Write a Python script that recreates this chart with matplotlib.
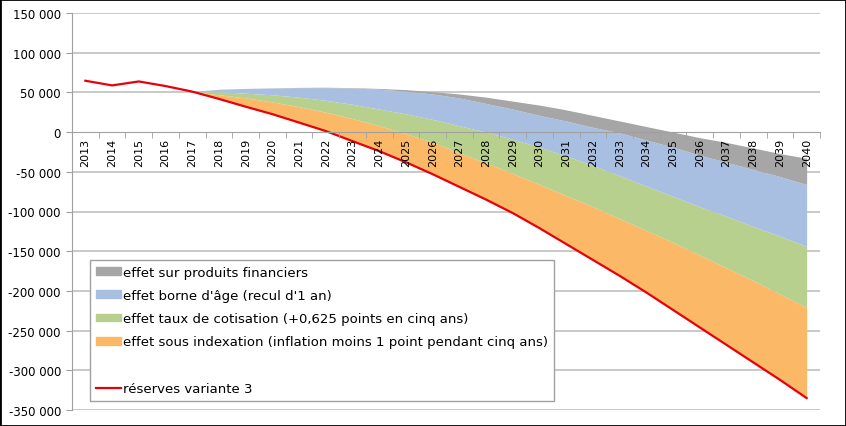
""" Réserves variante 3 - effets des mesures """
import numpy as np
import matplotlib
matplotlib.use("Agg")
from matplotlib import pyplot as plt
from matplotlib.patches import Patch, Rectangle
from matplotlib.lines import Line2D
from matplotlib.ticker import FuncFormatter, MultipleLocator


years = list(range(2013, 2041))

# réserves variante 3 (ligne rouge)
reserves = [64700, 58800, 63800, 58000, 51000, 41800, 32000, 22600, 12000, 1300,
            -11400, -24000, -38000, -53000, -69000, -85000, -102000, -121000, -141000, -161000,
            -181000, -202000, -224000, -246000, -268000, -290000, -312000, -335000]

# effets empilés au-dessus des réserves
effet_indexation = [0, 0, 0, 0, 0, 5200, 11000, 15400, 20000, 23700,
                    28400, 32000, 36000, 40000, 43000, 46000, 50000, 55000, 61000, 67000,
                    72000, 78000, 85000, 91000, 97000, 103000, 108000, 114000]
effet_cotisation = [0, 0, 0, 0, 0, 4000, 6000, 9000, 12000, 15000,
                    18000, 21000, 25000, 29000, 34000, 39000, 43000, 47000, 50000, 52000,
                    54000, 56000, 58000, 61000, 65000, 68000, 73000, 77000]
effet_borne = [0, 0, 0, 0, 0, 3000, 6000, 8500, 12000, 16000,
               20500, 25000, 28500, 32000, 35000, 36000, 38000, 40000, 44000, 48000,
               54000, 58000, 62000, 65000, 68000, 72000, 75000, 78000]
effet_financier = [0, 0, 0, 0, 0, 0, 0, 200, 300, 500,
                   500, 1000, 2000, 3000, 5000, 8000, 10000, 13000, 14000, 15000,
                   15000, 17000, 19000, 22000, 25000, 27000, 29000, 33000]

labels = ["effet sur produits financiers",
          "effet borne d'âge (recul d'1 an)",
          "effet taux de cotisation (+0,625 points en cinq ans)",
          "effet sous indexation (inflation moins 1 point pendant cinq ans)",
          "réserves variante 3"]

colors = ["#A6A6A6", "#A9BFE1", "#B8D08E", "#FBB867"]
red = "#E8000B"
grid_col = "#C0C0C0"

fig = plt.figure(figsize=(8.46, 4.27), dpi=100)
ax = fig.add_axes([72 / 846, 1 - 411 / 427, 748 / 846, 397 / 427])

x = np.array(years)
base = np.array(reserves, dtype=float)
layers = [effet_indexation, effet_cotisation, effet_borne, effet_financier]
layer_cols = [colors[3], colors[2], colors[1], colors[0]]
low = base.copy()
for vals, c in zip(layers, layer_cols):
	high = low + np.array(vals)
	ax.fill_between(x, low, high, color=c, lw=0, zorder=1)
	low = high

ax.plot(x, reserves, color=red, lw=1.6, zorder=2)

# axes
ax.set_xlim(2012.5, 2040.5)
ax.set_ylim(-350000, 150000)
ax.yaxis.set_major_locator(MultipleLocator(50000))
ax.yaxis.set_major_formatter(FuncFormatter(lambda v, p: f"{int(v):,}".replace(",", " ")))
# grille dessinée à la main pour garder les étiquettes au-dessus des aires
for v in range(-350000, 150001, 50000):
	if v != 0:
		ax.axhline(v, color=grid_col, lw=1.2, zorder=0)
ax.set_axisbelow(False)

for s in ["top", "right"]:
	ax.spines[s].set_visible(False)
ax.spines["left"].set_color("#A0A0A0")
ax.spines["bottom"].set_position(("data", 0))
ax.spines["bottom"].set_color("#A0A0A0")

ax.set_xticks(years)
ax.set_xticklabels([str(y) for y in years], rotation=90, fontsize=8)
ax.set_xticks(np.arange(2012.5, 2041, 1.0), minor=True)
ax.tick_params(axis="x", which="major", length=0, pad=4)
ax.tick_params(axis="x", which="minor", length=4, color="#A0A0A0", direction="out")
ax.tick_params(axis="y", length=4, color="#A0A0A0", labelsize=8.5, pad=4)

# legende
handles = [Patch(color=colors[0]), Patch(color=colors[1]), Patch(color=colors[2]),
           Patch(color=colors[3]), Line2D([], [], color="none"),
           Line2D([], [], color=red, lw=1.6)]
leg_labels = labels[:4] + [" "] + labels[4:]
leg = ax.legend(handles, leg_labels, loc="lower left",
                bbox_to_anchor=(90 / 846, 1 - 402 / 427), bbox_transform=fig.transFigure,
                fontsize=9.5, frameon=True, fancybox=False, framealpha=1,
                edgecolor="#A0A0A0", handlelength=1.9, handleheight=0.55,
                handletextpad=0.15, labelspacing=0.78, borderpad=0.45, borderaxespad=0)
leg.get_frame().set_linewidth(1.0)
leg.set_zorder(10)

fig.patches.append(Rectangle((0, 0), 1, 1, transform=fig.transFigure, fill=False,
                             edgecolor="black", lw=2))

fig.savefig("out.png", dpi=100)
